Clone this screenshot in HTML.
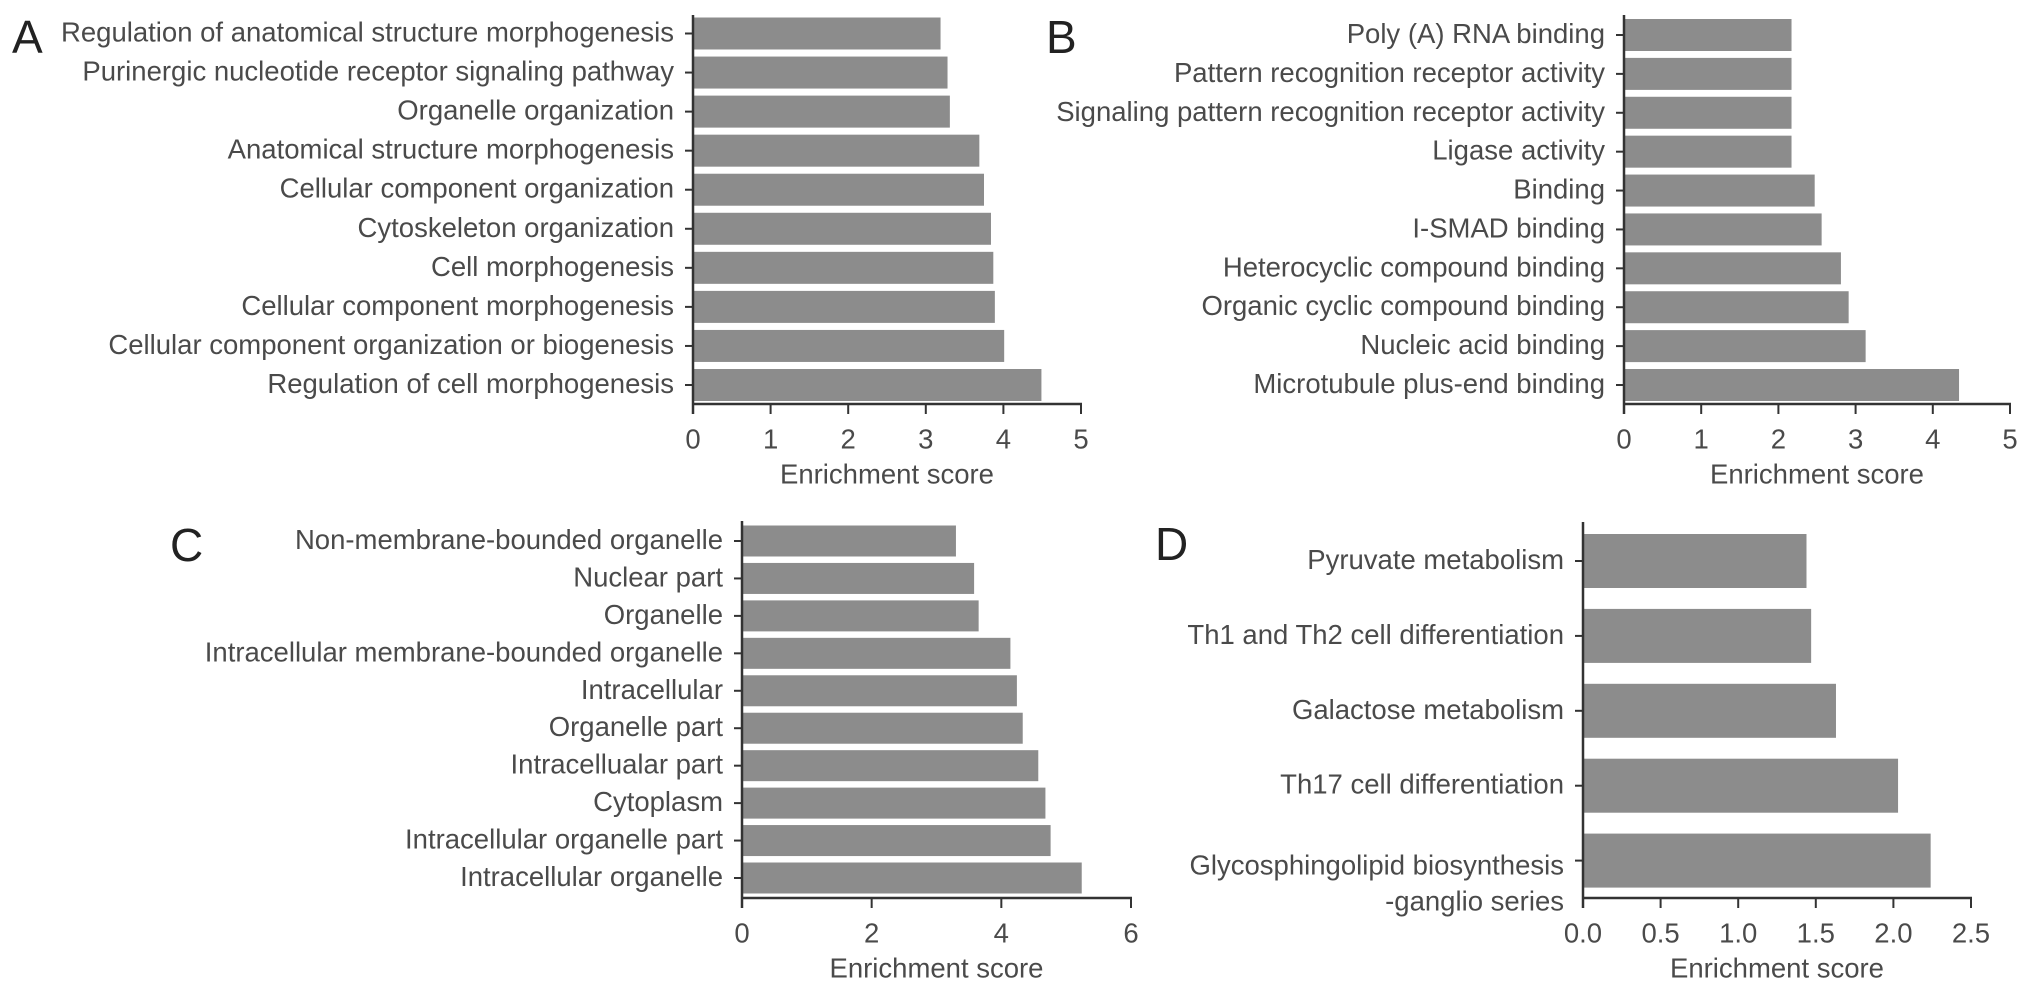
<!DOCTYPE html>
<html><head><meta charset="utf-8">
<style>
html,body{margin:0;padding:0;background:#fff;}
svg{display:block;}
text{font-family:"Liberation Sans",sans-serif;fill:#4a4a4a;}
</style></head>
<body>
<svg id="fig" width="2032" height="1006" viewBox="0 0 2032 1006" xmlns="http://www.w3.org/2000/svg"></svg>
<script>
const catsA = ["Regulation of anatomical structure morphogenesis","Purinergic nucleotide receptor signaling pathway","Organelle organization","Anatomical structure morphogenesis","Cellular component organization","Cytoskeleton organization","Cell morphogenesis","Cellular component morphogenesis","Cellular component organization or biogenesis","Regulation of cell morphogenesis"];
const valsA = [3.19,3.28,3.31,3.69,3.75,3.84,3.87,3.89,4.01,4.49];
const ticksA = ["0","1","2","3","4","5"];
const catsB = ["Poly (A) RNA binding","Pattern recognition receptor activity","Signaling pattern recognition receptor activity","Ligase activity","Binding","I-SMAD binding","Heterocyclic compound binding","Organic cyclic compound binding","Nucleic acid binding","Microtubule plus-end binding"];
const valsB = [2.17,2.17,2.17,2.17,2.47,2.56,2.81,2.91,3.13,4.34];
const ticksB = ["0","1","2","3","4","5"];
const catsC = ["Non-membrane-bounded organelle","Nuclear part","Organelle","Intracellular membrane-bounded organelle","Intracellular","Organelle part","Intracellualar part","Cytoplasm","Intracellular organelle part","Intracellular organelle"];
const valsC = [3.30,3.58,3.65,4.14,4.24,4.33,4.57,4.68,4.76,5.24];
const ticksC = ["0","2","4","6"];
const catsD = ["Pyruvate metabolism","Th1 and Th2 cell differentiation","Galactose metabolism","Th17 cell differentiation","Glycosphingolipid biosynthesis\n-ganglio series"];
const valsD = [1.44,1.47,1.63,2.03,2.24];
const ticksD = ["0.0","0.5","1.0","1.5","2.0","2.5"];

const NS="http://www.w3.org/2000/svg";
const svg=document.getElementById('fig');
const FS=27.5;
function mk(tag,attrs,parent){const e=document.createElementNS(NS,tag);for(const k in attrs)e.setAttribute(k,attrs[k]);(parent||svg).appendChild(e);return e;}

function panel(id,letter,letterX,letterY,cats,vals,ticks,cfg){
  const g=mk('g',{});
  
  
  const xmax=parseFloat(ticks[ticks.length-1]);
  const xs=v=>cfg.x0+(v/xmax)*(cfg.x1-cfg.x0);
  const n=cats.length;
  const ys=i=>cfg.c0+i*(cfg.cN-cfg.c0)/(n-1);
  const L=mk('text',{x:letterX,y:letterY,'font-size':46,'dominant-baseline':'central',style:'fill:#222'},g);
  L.textContent=letter;
  
  
  cats.forEach((c,i)=>{
    const y=ys(i);
    const r=mk('rect',{x:cfg.x0,y:y-cfg.bh/2,width:xs(vals[i])-cfg.x0,height:cfg.bh,fill:'#8c8c8c'},g);
    
    
    mk('line',{x1:cfg.x0-8,x2:cfg.x0,y1:y,y2:y,stroke:'#333','stroke-width':2},g);
    const lines=c.split('\n');
    const t=mk('text',{x:cfg.x0-19,'text-anchor':'end','font-size':FS,'dominant-baseline':'central'},g);
    
    
    lines.forEach((ln,k)=>{const ts=mk('tspan',{x:cfg.x0-19,y:y-2+(lines.length>1?6:0)+k*36},t);ts.textContent=ln;});
  });
  const ya=mk('line',{x1:cfg.x0,x2:cfg.x0,y1:cfg.top,y2:cfg.axy+10,stroke:'#333','stroke-width':2.5},g);
  
  
  const xa=mk('line',{x1:cfg.x0,x2:cfg.x1+1,y1:cfg.axy,y2:cfg.axy,stroke:'#333','stroke-width':2.5},g);
  
  
  ticks.forEach(tk=>{
    const x=xs(parseFloat(tk));
    mk('line',{x1:x,x2:x,y1:cfg.axy,y2:cfg.axy+10,stroke:'#333','stroke-width':2},g);
    const t=mk('text',{x:x,y:cfg.axy+35,'text-anchor':'middle','font-size':FS,'dominant-baseline':'central'},g);
    t.textContent=tk;
    
    
  });
  const tt=mk('text',{x:(cfg.x0+cfg.x1)/2,y:cfg.axy+70,'text-anchor':'middle','font-size':FS,'dominant-baseline':'central'},g);
  tt.textContent='Enrichment score';
  
  
}
panel('a','A',12,37,catsA,valsA,ticksA,{x0:693,x1:1081,c0:33.5,cN:385,bh:32,top:15,axy:404});
panel('b','B',1046,37,catsB,valsB,ticksB,{x0:1624,x1:2010,c0:35,cN:385,bh:32,top:15,axy:404});
panel('c','C',170,545,catsC,valsC,ticksC,{x0:742,x1:1131,c0:541,cN:878,bh:31,top:521,axy:898});
panel('d','D',1155,544,catsD,valsD,ticksD,{x0:1583,x1:1971,c0:561,cN:860.6,bh:54,top:522,axy:898});
</script>
</body></html>
